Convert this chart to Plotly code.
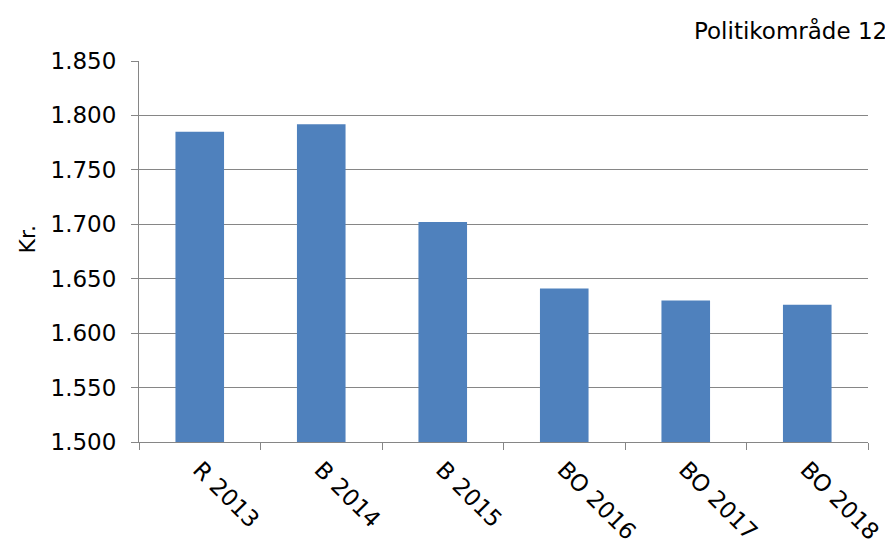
import plotly.graph_objects as go

categories = ["R 2013", "B 2014", "B 2015", "BO 2016", "BO 2017", "BO 2018"]
values = [1785, 1792, 1702, 1641, 1630, 1626]
y_ticks = [1500, 1550, 1600, 1650, 1700, 1750, 1800, 1850]

FONT = "DejaVu Sans"
AX = "#868686"
fig = go.Figure()
fig.add_trace(go.Bar(x=categories, y=values, marker=dict(color="#4F81BD", line=dict(width=0)), width=0.4))

fig.update_layout(
    width=885, height=544, autosize=False,
    margin=dict(l=131, r=25, t=53, b=110),
    paper_bgcolor="white", plot_bgcolor="white",
    separators=",.",
    showlegend=False,
    font=dict(family=FONT, size=23, color="#000000"),
    annotations=[
        dict(text="Politikområde 12", xref="paper", yref="paper",
             x=1.0, y=1.0, xanchor="right", yanchor="middle", xshift=21, yshift=31,
             showarrow=False, font=dict(family=FONT, size=23, color="#000000")),
        dict(text="Kr.", xref="paper", yref="paper", x=0, y=0.5,
             xanchor="center", yanchor="middle", xshift=-112, yshift=12, textangle=-90,
             showarrow=False, font=dict(family=FONT, size=22, color="#000000")),
    ],
)
fig.update_xaxes(
    showline=True, linecolor=AX, linewidth=1,
    ticks="outside", tickson="boundaries", ticklen=7, tickcolor=AX,
    tickangle=45, tickfont=dict(family=FONT, size=23), ticklabelstandoff=4,
    showgrid=False, automargin=False,
)
fig.update_yaxes(
    range=[1500, 1850], tickvals=y_ticks, tickformat=",d",
    showline=True, linecolor=AX, linewidth=1,
    ticks="outside", ticklen=7, tickcolor=AX,
    showgrid=True, gridcolor=AX, gridwidth=1,
    tickfont=dict(family=FONT, size=23), ticklabelstandoff=10,
    zeroline=False, automargin=False,
)

fig.write_html("out.html")
